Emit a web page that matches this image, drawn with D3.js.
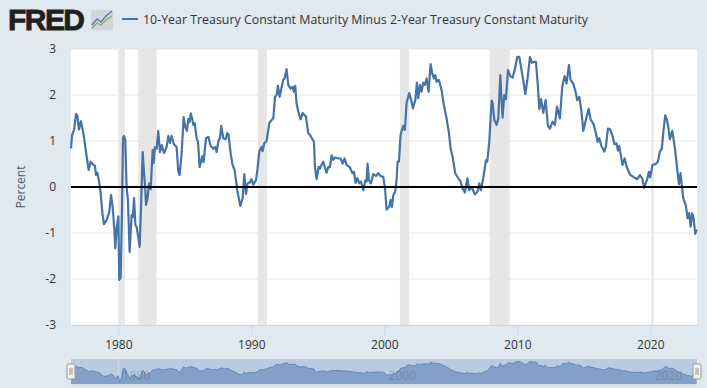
<!DOCTYPE html>
<html>
<head>
<meta charset="utf-8">
<script src="https://cdn.jsdelivr.net/npm/d3@7"></script>
<style>
html, body { margin: 0; padding: 0; background: #e1e9f0; }
svg { display: block; font-family: "Open Sans", sans-serif; }
</style>
</head>
<body>
<div id="chart"></div>
<script>
const seriesName = "10-Year Treasury Constant Maturity Minus 2-Year Treasury Constant Maturity";
const yTicks = [-3, -2, -1, 0, 1, 2, 3];
const xTicks = [1980, 1990, 2000, 2010, 2020];
const navLabels = [1980, 2000, 2020];

// Recession bands, start and end as fractional years
const recessionStart = [1980.0, 1981.5, 1990.5, 2001.17, 2007.92, 2020.08];
const recessionEnd = [1980.5, 1982.87, 1991.17, 2001.87, 2009.42, 2020.25];

const years = [
  1976.44,1976.52,1976.67,1976.82,1976.92,1977.04,1977.19,1977.37,1977.62,1977.77,1977.92,1978.12,1978.24,1978.32,1978.42,1978.57,1978.67,1978.80,1978.92,1979.12,
  1979.32,1979.45,1979.57,1979.70,1979.77,1979.87,1980.0,1980.07,1980.17,1980.27,1980.35,1980.42,1980.52,1980.62,1980.72,1980.85,1981.0,1981.1,1981.18,1981.28,
  1981.38,1981.5,1981.6,1981.7,1981.83,1981.93,1982.03,1982.08,1982.2,1982.3,1982.43,1982.58,1982.65,1982.75,1982.88,1983.0,1983.13,1983.26,1983.43,1983.63,
  1983.76,1983.88,1984.01,1984.18,1984.38,1984.51,1984.61,1984.76,1984.91,1985.04,1985.16,1985.26,1985.36,1985.44,1985.54,1985.64,1985.74,1985.89,1985.99,1986.11,
  1986.31,1986.41,1986.59,1986.77,1986.94,1987.14,1987.29,1987.39,1987.54,1987.64,1987.74,1987.89,1988.07,1988.19,1988.29,1988.44,1988.59,1988.74,1988.94,1989.17,
  1989.35,1989.47,1989.6,1989.72,1989.9,1990.0,1990.15,1990.35,1990.47,1990.6,1990.77,1990.85,1990.97,1991.15,1991.35,1991.53,1991.65,1991.78,1991.9,1992.0,
  1992.13,1992.28,1992.4,1992.5,1992.65,1992.78,1992.95,1993.1,1993.2,1993.3,1993.4,1993.53,1993.7,1993.86,1994.0,1994.1,1994.28,1994.46,1994.71,1994.78,
  1994.91,1995.06,1995.16,1995.28,1995.41,1995.53,1995.66,1995.79,1995.91,1996.04,1996.16,1996.29,1996.54,1996.71,1996.86,1997.01,1997.16,1997.41,1997.59,1997.71,
  1997.84,1997.97,1998.12,1998.24,1998.42,1998.57,1998.67,1998.74,1998.84,1998.99,1999.17,1999.37,1999.54,1999.72,1999.92,2000.05,2000.17,2000.37,2000.47,2000.57,
  2000.67,2000.82,2000.92,2001.0,2001.1,2001.22,2001.32,2001.42,2001.55,2001.67,2001.87,2002.02,2002.15,2002.33,2002.45,2002.55,2002.68,2002.8,2002.93,2003.05,
  2003.18,2003.33,2003.48,2003.6,2003.73,2003.83,2003.93,2004.1,2004.3,2004.48,2004.68,2004.86,2004.98,2005.13,2005.33,2005.56,2005.73,2005.88,2006.06,2006.24,
  2006.39,2006.56,2006.81,2007.01,2007.14,2007.26,2007.44,2007.64,2007.74,2007.89,2008.07,2008.14,2008.27,2008.44,2008.57,2008.72,2008.89,2009.02,2009.14,2009.3,
  2009.5,2009.65,2009.8,2010.0,2010.15,2010.32,2010.42,2010.6,2010.77,2010.95,2011.1,2011.25,2011.4,2011.55,2011.65,2011.78,2011.95,2012.13,2012.3,2012.45,
  2012.65,2012.83,2012.98,2013.2,2013.38,2013.55,2013.7,2013.88,2014.0,2014.2,2014.38,2014.5,2014.66,2014.81,2014.96,2015.16,2015.36,2015.51,2015.71,2015.91,
  2016.04,2016.16,2016.34,2016.54,2016.66,2016.81,2016.96,2017.14,2017.31,2017.46,2017.56,2017.66,2017.91,2018.07,2018.22,2018.47,2018.72,2019.02,2019.22,2019.39,
  2019.54,2019.79,2019.89,2019.99,2020.17,2020.4,2020.57,2020.72,2020.87,2020.97,2021.12,2021.25,2021.37,2021.47,2021.65,2021.85,2022.02,2022.15,2022.27,2022.35,
  2022.48,2022.68,2022.8,2022.93,2023.03,2023.15,2023.25,2023.38,2023.48
];
const spread = [
  0.84,1.13,1.24,1.59,1.55,1.25,1.43,1.17,0.66,0.37,0.55,0.48,0.46,0.26,0.31,0.09,-0.14,-0.57,-0.81,-0.72,
  -0.54,-0.17,-0.43,-0.93,-1.33,-0.9,-0.64,-2.02,-1.98,-0.57,1.06,1.11,1.02,0,-0.28,-1.41,-0.61,-0.65,-0.24,-0.83,
  -0.87,-1.1,-1.3,-0.5,0.76,0.3,-0.06,-0.39,-0.24,0.08,-0.05,0.8,0.52,0.87,0.83,1.22,0.76,0.91,0.74,0.87,
  1.11,0.96,1.11,0.93,0.87,0.33,0.26,0.74,1.52,1.3,1.22,1.48,1.41,1.6,1.5,1.35,1.39,1.06,0.98,0.43,
  0.67,0.54,1.06,1.09,0.89,0.83,0.87,0.76,1.02,1.06,1.33,1.06,1.04,1.17,1.13,0.74,0.48,0.37,-0.07,-0.41,
  -0.24,0.28,-0.15,0.08,0.1,0.17,0.05,0.15,0.41,0.78,0.87,0.78,0.95,1.0,1.39,1.46,1.49,1.96,2.0,2.2,
  1.96,2.17,2.33,2.36,2.56,2.22,2.14,2.18,2.07,2.2,1.82,1.64,1.47,1.61,1.56,1.54,1.17,1.11,0.98,0.44,
  0.17,0.44,0.4,0.48,0.55,0.43,0.31,0.44,0.43,0.69,0.59,0.64,0.62,0.62,0.51,0.62,0.48,0.43,0.3,0.33,
  0.09,0.19,0.08,0.12,-0.07,0.15,0.12,0.51,0.15,0.08,0.28,0.24,0.3,0.24,0.22,-0.03,-0.49,-0.43,-0.28,-0.43,
  -0.18,-0.1,0.15,0.55,0.55,1.13,1.24,1.33,1.24,1.82,2.04,1.89,1.71,1.89,2.27,1.93,2.22,2.07,2.27,2.22,
  2.36,2.07,2.67,2.47,2.36,2.43,2.29,2.33,2.11,1.78,1.49,1.17,0.84,0.66,0.3,0.19,0.12,-0.03,-0.12,0.19,
  -0.07,0,-0.16,-0.1,0.08,-0.07,0.19,0.58,0.55,0.98,1.88,1.82,1.46,1.35,1.49,2.43,1.51,2.0,1.91,2.54,
  2.4,2.38,2.54,2.83,2.83,2.54,2.36,2.02,2.36,2.83,2.7,2.72,2.72,2.18,1.69,1.91,1.61,1.89,1.33,1.27,
  1.42,1.35,1.75,1.49,2.18,2.41,2.25,2.65,2.33,2.25,2.07,1.89,1.96,1.67,1.22,1.46,1.7,1.47,1.38,1.17,
  0.98,1.06,0.88,0.77,0.88,1.27,1.26,1.13,0.93,0.95,0.79,0.89,0.48,0.62,0.44,0.27,0.22,0.17,0.26,0.19,
  -0.02,0.19,0.33,0.21,0.48,0.5,0.55,0.77,0.84,1.17,1.56,1.46,1.27,1.04,1.22,0.84,0.4,0.06,0.3,0.08,
  -0.25,-0.41,-0.68,-0.57,-0.86,-0.57,-0.68,-1.02,-0.92
];

const width = 707;
const height = 388;
const margin = {top: 49, right: 10, bottom: 63, left: 71};
const innerWidth = width - margin.left - margin.right;
const innerHeight = height - margin.top - margin.bottom;
const data = years.map((y, i) => ({year: y, value: spread[i]}));

const svg = d3.select("#chart")
    .append("svg")
    .attr("width", width)
    .attr("height", height);

svg.append("rect")
    .attr("width", width)
    .attr("height", height)
    .attr("fill", "#e1e9f0");

// FRED logo
svg.append("text")
    .text("FRED")
    .attr("x", 8)
    .attr("y", 30)
    .attr("font-family", "Liberation Sans")
    .attr("font-weight", "bold")
    .attr("font-size", 30)
    .attr("textLength", 77)
    .attr("stroke", "#231f20")
    .attr("stroke-width", 0.8)
    .attr("fill", "#231f20");

const logo = svg.append("g").attr("transform", "translate(91, 10)");
logo.append("rect")
    .attr("width", 22)
    .attr("height", 20)
    .attr("rx", 2)
    .attr("fill", "#cfd6da");
logo.append("path")
    .attr("d", d3.line()([[1, 15], [6, 9], [10, 12], [15, 6], [21, 1]]))
    .attr("fill", "none")
    .attr("stroke", "#4f80ad")
    .attr("stroke-width", 1.3);
logo.append("path")
    .attr("d", d3.line()([[1, 18], [6, 13], [10, 15], [15, 10], [21, 6]]))
    .attr("fill", "none")
    .attr("stroke", "#7fac55")
    .attr("stroke-width", 1.3);

// Legend
svg.append("line")
    .attr("x1", 122)
    .attr("x2", 138)
    .attr("y1", 19)
    .attr("y2", 19)
    .attr("stroke", "#4572a7")
    .attr("stroke-width", 2);
svg.append("text")
    .text(seriesName)
    .attr("x", 143)
    .attr("y", 24)
    .attr("font-size", 12.4)
    .attr("fill", "#333");

// Scales
const xScale = d3.scaleLinear()
    .domain([1976.44, 2023.51])
    .range([0, innerWidth]);
const yScale = d3.scaleLinear()
    .domain([-3, 3])
    .range([innerHeight, 0]);

const innerChart = svg.append("g")
    .attr("transform", `translate(${margin.left}, ${margin.top})`);

innerChart.append("rect")
    .attr("width", innerWidth)
    .attr("height", innerHeight)
    .attr("fill", "#fff");

// Gridlines
innerChart.selectAll(".grid")
    .data(yTicks)
    .join("line")
    .attr("class", "grid")
    .attr("x1", 0)
    .attr("x2", innerWidth)
    .attr("y1", d => yScale(d))
    .attr("y2", d => yScale(d))
    .attr("stroke", "#e6e6e6")
    .attr("stroke-width", 1);

// Recessions
innerChart.selectAll(".recession")
    .data(recessionStart)
    .join("rect")
    .attr("class", "recession")
    .attr("x", d => xScale(d))
    .attr("y", 0)
    .attr("width", (d, i) => xScale(recessionEnd[i]) - xScale(d))
    .attr("height", innerHeight)
    .attr("fill", "#e6e6e6");

// Axes
const leftAxis = d3.axisLeft(yScale).tickValues(yTicks).tickFormat(d => String(d)).tickSize(0).tickPadding(15);
const yAxis = innerChart.append("g").call(leftAxis);
yAxis.select(".domain").remove();
yAxis.selectAll("text")
    .attr("font-family", "Open Sans")
    .attr("font-size", 12)
    .attr("fill", "#333");

const bottomAxis = d3.axisBottom(xScale).tickValues(xTicks).tickFormat(d3.format("d")).tickSize(10).tickPadding(5).tickSizeOuter(0);
const xAxis = innerChart.append("g")
    .attr("transform", `translate(0, ${innerHeight})`)
    .call(bottomAxis);
xAxis.select(".domain").attr("stroke", "#ccd6eb");
xAxis.selectAll("line").attr("stroke", "#ccd6eb");
xAxis.selectAll("text")
    .attr("font-family", "Open Sans")
    .attr("font-size", 12)
    .attr("fill", "#333");

svg.append("text")
    .text("Percent")
    .attr("transform", "translate(25, 187) rotate(-90)")
    .attr("text-anchor", "middle")
    .attr("font-size", 12)
    .attr("fill", "#4d5a66");

// Series
const line = d3.line()
    .x(d => xScale(d.year))
    .y(d => yScale(d.value));

innerChart.append("path")
    .datum(data)
    .attr("d", line)
    .attr("fill", "none")
    .attr("stroke", "#4572a7")
    .attr("stroke-width", 2.2)
    .attr("stroke-linejoin", "round");

// Zero line
innerChart.append("line")
    .attr("x1", 0)
    .attr("x2", innerWidth)
    .attr("y1", yScale(0))
    .attr("y2", yScale(0))
    .attr("stroke", "#000")
    .attr("stroke-width", 2);

// Navigator
const navTop = 359;
const navBottom = 384;
const navY = d3.scaleLinear()
    .domain([-2.02, 2.83])
    .range([381.5, 361.5]);

const navigator = svg.append("g").attr("transform", `translate(${margin.left}, 0)`);

navigator.append("rect")
    .attr("y", navBottom)
    .attr("width", innerWidth)
    .attr("height", 2)
    .attr("fill", "#d8dfe6");

navigator.append("rect")
    .attr("y", navTop)
    .attr("width", innerWidth)
    .attr("height", navBottom - navTop)
    .attr("fill", "#bacae1");

navigator.append("line")
    .attr("x1", xScale(1980))
    .attr("x2", xScale(1980))
    .attr("y1", navTop)
    .attr("y2", navBottom)
    .attr("stroke", "#cdd9ea");

navigator.append("path")
    .datum(data)
    .attr("d", d3.area().x(d => xScale(d.year)).y0(navBottom).y1(d => navY(d.value)))
    .attr("fill", "#84a0c8");

navigator.append("path")
    .datum(data)
    .attr("d", d3.line().x(d => xScale(d.year)).y(d => navY(d.value)))
    .attr("fill", "none")
    .attr("stroke", "#5f84b7")
    .attr("stroke-width", 1);

navigator.selectAll(".nav-label")
    .data(navLabels)
    .join("text")
    .attr("class", "nav-label")
    .text(d => d)
    .attr("x", d => xScale(d) + 18)
    .attr("y", 380)
    .attr("text-anchor", "middle")
    .attr("font-size", 12)
    .attr("fill", "#333")
    .attr("opacity", 0.2);

// Navigator handles
[0, innerWidth].forEach(hx => {
    const handle = navigator.append("g")
        .attr("transform", `translate(${hx}, 364)`);
    handle.append("rect")
        .attr("x", -4)
        .attr("width", 8)
        .attr("height", 15)
        .attr("rx", 1)
        .attr("fill", "#f2f2f2")
        .attr("stroke", "#999");
    [-1, 1].forEach(dx => {
        handle.append("line")
            .attr("x1", dx)
            .attr("x2", dx)
            .attr("y1", 4)
            .attr("y2", 11)
            .attr("stroke", "#999");
    });
});
</script>
</body>
</html>
